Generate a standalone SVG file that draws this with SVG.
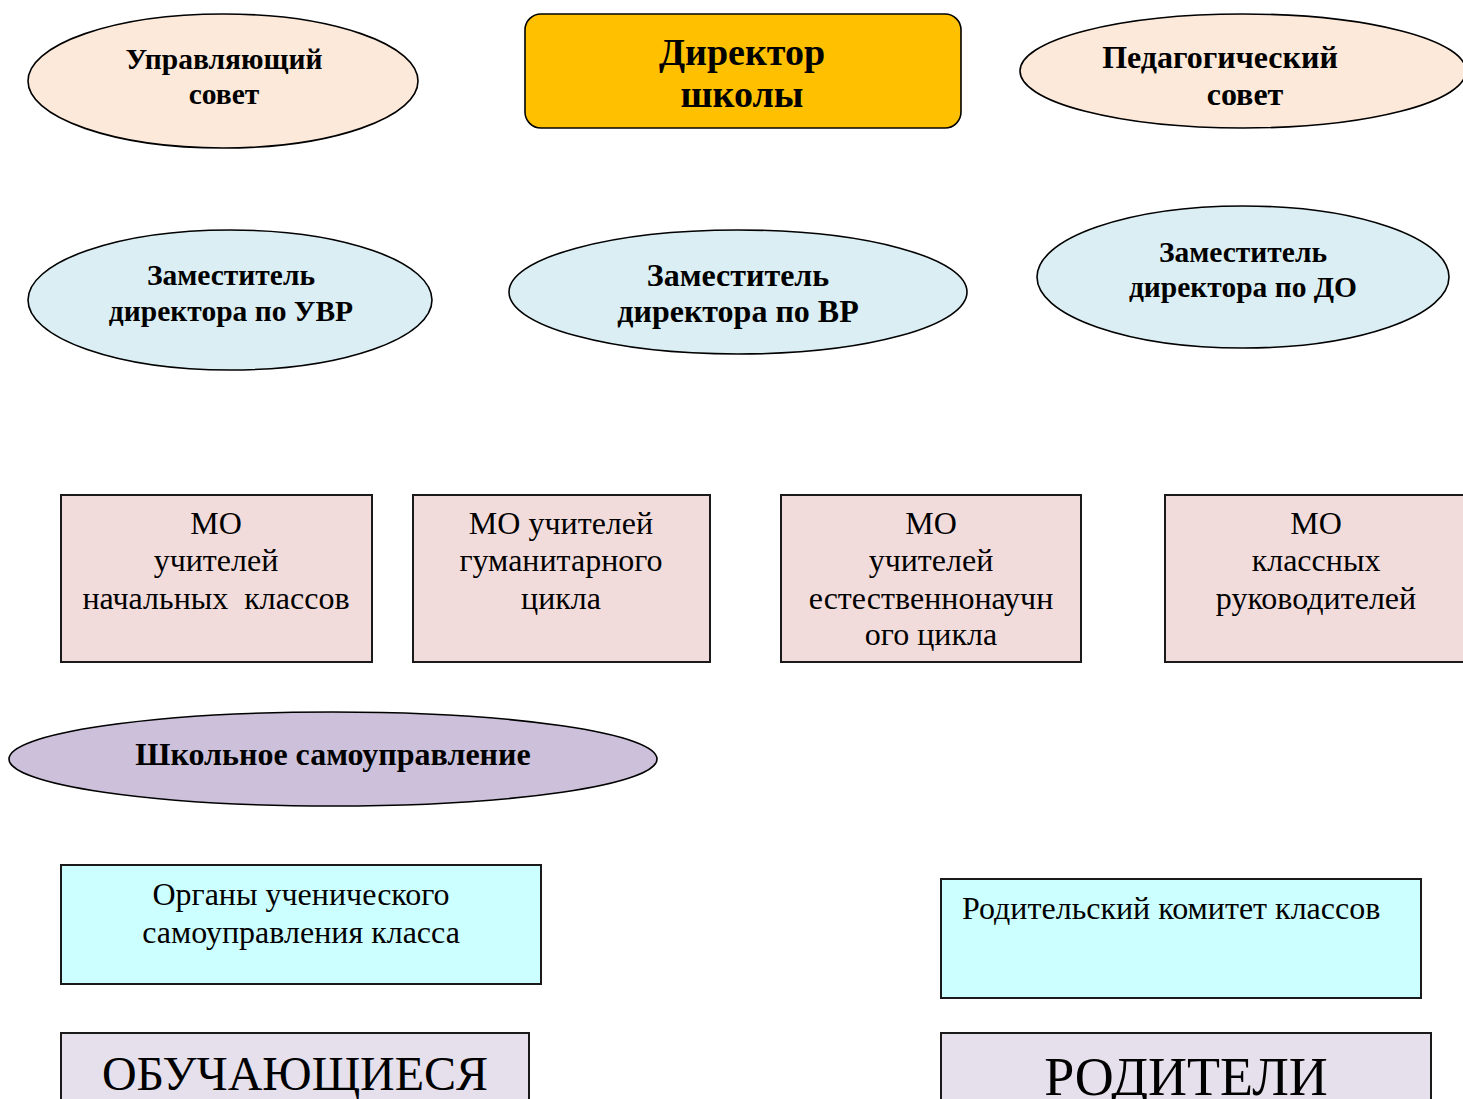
<svg xmlns="http://www.w3.org/2000/svg" width="1463" height="1099" viewBox="0 0 1463 1099">
<style>
.s{stroke:#000;stroke-width:1.6}
.b{stroke:#1a1a1a;stroke-width:2}
.peach{fill:#FCE9DA}
.blue{fill:#DAEEF3}
.pink{fill:#F2DCDB}
.purple{fill:#CCC0DA}
.cyan{fill:#CCFFFF}
.lav{fill:#E5E0EC}
text{font-family:"Liberation Serif","Times New Roman",serif;fill:#000}
.c{text-anchor:middle}
.hb{font-weight:bold;font-size:29.5px}
.hb2{font-weight:bold;font-size:32px}
.r{font-size:32px}
</style>
<rect width="1463" height="1099" fill="#fff"/>
<g id="upr-sovet">
<ellipse class="s peach" cx="223" cy="81" rx="195" ry="67"/>
<text class="hb c" x="224" y="69">Управляющий</text>
<text class="hb c" x="224" y="104">совет</text>
</g>
<g id="director">
<rect x="525" y="14" width="436" height="114" rx="16" fill="#FFC000" class="s"/>
<text class="c" x="742" y="65" font-weight="bold" font-size="38">Директор</text>
<text class="c" x="742" y="107" font-weight="bold" font-size="38">школы</text>
</g>
<g id="ped-sovet">
<ellipse class="s peach" cx="1243" cy="71" rx="223" ry="57"/>
<text class="hb2 c" x="1220" y="68">Педагогический</text>
<text class="hb2 c" x="1245" y="105">совет</text>
</g>
<g id="zam-uvr">
<ellipse class="s blue" cx="230" cy="300" rx="202" ry="70"/>
<text class="hb c" x="231" y="285">Заместитель</text>
<text class="hb c" x="231" y="321">директора по УВР</text>
</g>
<g id="zam-vr">
<ellipse class="s blue" cx="738" cy="292" rx="229" ry="62"/>
<text class="hb2 c" x="738" y="286">Заместитель</text>
<text class="hb2 c" x="738" y="322">директора по ВР</text>
</g>
<g id="zam-do">
<ellipse class="s blue" cx="1243" cy="277" rx="206" ry="71"/>
<text class="hb c" x="1243" y="262">Заместитель</text>
<text class="hb c" x="1243" y="297">директора по ДО</text>
</g>
<g id="mo-nach">
<rect class="b pink" x="61" y="495" width="311" height="167"/>
<text class="r c" x="216" y="534">МО</text>
<text class="r c" x="216" y="571">учителей</text>
<text class="r c" x="216" y="609" xml:space="preserve">начальных  классов</text>
</g>
<g id="mo-gum">
<rect class="b pink" x="413" y="495" width="297" height="167"/>
<text class="r c" x="561" y="534">МО учителей</text>
<text class="r c" x="561" y="571">гуманитарного</text>
<text class="r c" x="561" y="609">цикла</text>
</g>
<g id="mo-est">
<rect class="b pink" x="781" y="495" width="300" height="167"/>
<text class="r c" x="931" y="534">МО</text>
<text class="r c" x="931" y="571">учителей</text>
<text class="r c" x="931" y="609">естественнонаучн</text>
<text class="r c" x="931" y="645">ого цикла</text>
</g>
<g id="mo-kl">
<rect class="b pink" x="1165" y="495" width="310" height="167"/>
<text class="r c" x="1316" y="534">МО</text>
<text class="r c" x="1316" y="571">классных</text>
<text class="r c" x="1316" y="609">руководителей</text>
</g>
<g id="samoupr">
<ellipse class="s purple" cx="333" cy="759" rx="324" ry="47"/>
<text class="hb2 c" x="333" y="765">Школьное самоуправление</text>
</g>
<g id="organy">
<rect class="b cyan" x="61" y="865" width="480" height="119"/>
<text class="r c" x="301" y="905">Органы ученического</text>
<text class="r c" x="301" y="943">самоуправления класса</text>
</g>
<g id="rod-komitet">
<rect class="b cyan" x="941" y="879" width="480" height="119"/>
<text class="r" x="962" y="919">Родительский комитет классов</text>
</g>
<g id="obuch">
<rect class="b lav" x="61" y="1033" width="468" height="80"/>
<text class="c" x="295" y="1090" font-size="48">ОБУЧАЮЩИЕСЯ</text>
</g>
<g id="roditeli">
<rect class="b lav" x="941" y="1033" width="490" height="80"/>
<text class="c" x="1186" y="1095" font-size="54">РОДИТЕЛИ</text>
</g>
<g id="connectors"></g>
</svg>
